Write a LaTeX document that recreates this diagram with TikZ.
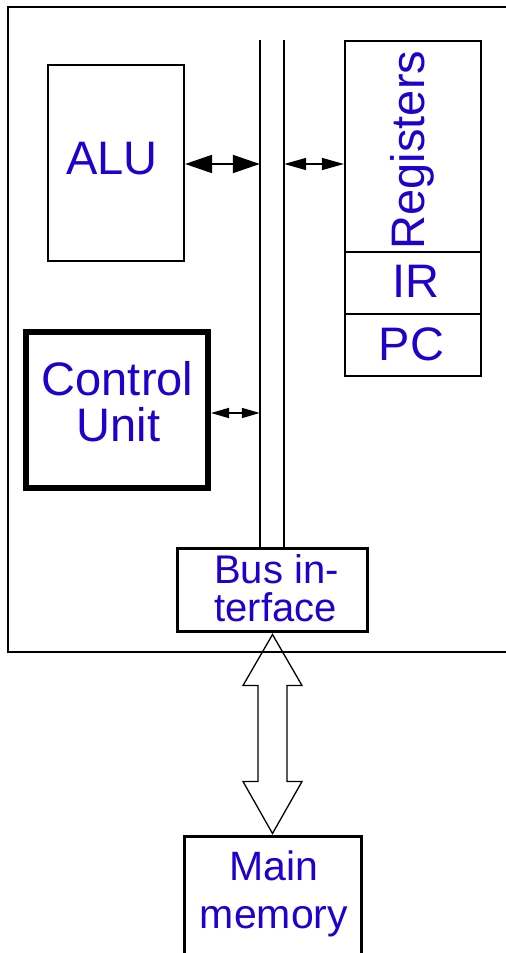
\documentclass[tikz,border=0pt]{standalone}
\usepackage{fontspec}
\setmainfont{Liberation Sans}
\usetikzlibrary{arrows.meta,calc}
\definecolor{txtblue}{RGB}{34,0,204}
\begin{document}
\begin{tikzpicture}[x=1bp,y=-1bp,
  box/.style={draw, line width=2.2bp, inner sep=0pt},
  thickbox/.style={draw, line width=6bp, inner sep=0pt},
  medbox/.style={draw, line width=3bp, inner sep=0pt},
  lbl/.style={text=txtblue, inner sep=0pt, anchor=base, font=\fontsize{47bp}{47bp}\selectfont},
  smalllbl/.style={lbl, font=\fontsize{40bp}{40bp}\selectfont},
  memlbl/.style={lbl, font=\fontsize{41bp}{41bp}\selectfont},
  buslink/.style={line width=2bp, {Triangle[length=27bp,width=18bp]}-{Triangle[length=27bp,width=18bp]}},
  reglink/.style={line width=1.6bp, {Triangle[length=22bp,width=12bp]}-{Triangle[length=22bp,width=12bp]}},
  culink/.style={line width=1.6bp, {Triangle[length=18bp,width=10bp]}-{Triangle[length=18bp,width=10bp]}},
  hollow/.style={line width=1.3bp, line join=miter}
]
\useasboundingbox (0,0) rectangle (506,953);

% outer CPU frame (right side off the picture)
\draw[line width=2bp] (530,7) -- (8,7) -- (8,652) -- (530,652);

% bus
\node[inner sep=0pt, minimum width=24bp, minimum height=507bp] (bus) at (272,293.5) {};
\draw[line width=2bp] (bus.north west) -- (bus.south west);
\draw[line width=2bp] (bus.north east) -- (bus.south east);

% ALU
\node[box, minimum width=136bp, minimum height=196bp] (alu) at (116,163) {};
\node[lbl] (alutxt) at (112,174) {ALU};

% Registers, IR, PC
\node[box, minimum width=136bp, minimum height=211bp] (regs) at (413,146.5) {};
\node[lbl, rotate=90] (regtxt) at (424,150) {Registers};
\node[box, minimum width=136bp, minimum height=62bp] (ir) at (413,283) {};
\node[lbl] (irtxt) at (415.5,297) {IR};
\node[box, minimum width=136bp, minimum height=62bp] (pc) at (413,345) {};
\node[lbl] (pctxt) at (411.5,360) {PC};

% Control unit
\node[thickbox, minimum width=182bp, minimum height=156bp] (cu) at (117,410) {};
\node[lbl] (cutxt1) at (117.5,395) {Control};
\node[lbl] (cutxt2) at (118.5,441) {Unit};

% Bus interface
\node[medbox, fill=white, minimum width=190bp, minimum height=83bp] (bi) at (272.5,590) {};
\node[smalllbl] (bitxt1) at (276.5,583) {Bus in-};
\node[smalllbl] (bitxt2) at (275.5,621) {terface};

% Main memory (bottom off the picture)
\node[medbox, minimum width=177bp, minimum height=150bp] (mm) at (273,911.5) {};
\node[memlbl] (mmtxt1) at (274,880) {Main};
\node[memlbl] (mmtxt2) at (274,928) {memory};

% connectors
\draw[buslink] ($(alu.east)+(0,1)$) -- ($(alu.east -| bus.west)+(0,1)$);
\draw[reglink] ($(alu.east -| bus.east)+(0,1)$) -- ($(alu.east -| regs.west)+(0,1)$);
\draw[culink] ($(cu.east)+(0,3)$) -- ($(cu.east -| bus.west)+(0,3)$);

% hollow double arrow between bus interface and main memory
\coordinate (ht) at ($(bi.south)+(0,1.5)$);
\coordinate (hb) at ($(bi.south |- mm.north)+(0,-1.5)$);
\draw[hollow] (ht) -- ($(ht)+(29.5,51)$) -- ($(ht)+(14.5,51)$) -- ($(hb)+(14.5,-52)$)
  -- ($(hb)+(29.5,-52)$) -- (hb) -- ($(hb)+(-29.5,-52)$) -- ($(hb)+(-14.5,-52)$)
  -- ($(ht)+(-14.5,51)$) -- ($(ht)+(-29.5,51)$) -- cycle;
\end{tikzpicture}
\end{document}
